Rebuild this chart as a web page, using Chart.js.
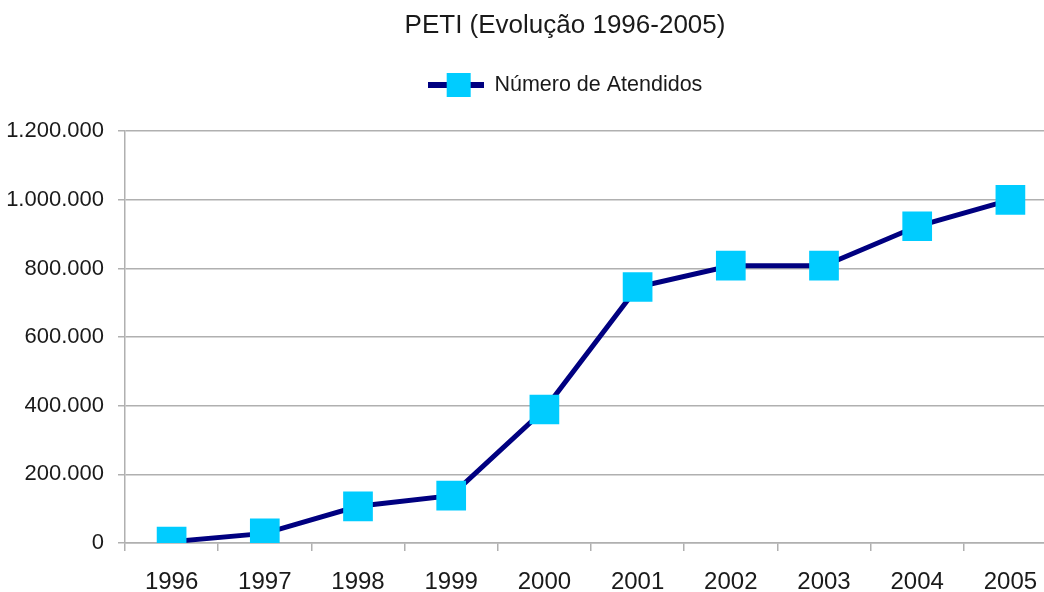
<!DOCTYPE html>
<html>
<head>
<meta charset="utf-8">
<script src="https://cdn.jsdelivr.net/npm/chart.js@4"></script>
<style>
    html, body { margin: 0; padding: 0; overflow: hidden; background: #fff; }
    #petiChart { display: block; }
</style>
</head>
<body>
<canvas id="petiChart" width="1130" height="595"></canvas>
<script>
// anos e numero de atendidos
var years = ["1996", "1997", "1998", "1999", "2000", "2001", "2002", "2003", "2004", "2005"];
var atendidos = [4000, 28000, 107000, 138000, 389000, 746000, 808000, 808000, 923000, 1000000];
var yTicks = [0, 200000, 400000, 600000, 800000, 1000000, 1200000];

var navy = "#000080";
var cyan = "#00CCFF";
var gridGray = "#b0b0b0";
var textColor = "#1a1a1a";
var fontFamily = "'Liberation Sans', Arial, sans-serif";
var rightPad = 73;

function formatPt(v) {
    return String(v).replace(/\B(?=(\d{3})+(?!\d))/g, ".");
}

// legend symbol: line with square in the middle
var legendIcon = document.createElement("canvas");
legendIcon.width = 56;
legendIcon.height = 26;
var lctx = legendIcon.getContext("2d");
lctx.fillStyle = navy;
lctx.fillRect(0, 10, 56, 6);
lctx.fillStyle = cyan;
lctx.fillRect(19, 1, 24, 24);

// push plot area down under the legend, and center title/legend on full canvas
var headerFix = {
    id: "headerFix",
    beforeInit: function (chart) {
        var origFit = chart.legend.fit;
        chart.legend.fit = function () {
            origFit.bind(chart.legend)();
            this.height = 90;
        };
    },
    afterLayout: function (chart) {
        chart.titleBlock.right += rightPad;
        chart.legend.right += rightPad;
    },
};

var ctx = document.getElementById("petiChart");
var petiChart = new Chart(ctx, {
    type: "line",
    data: {
        labels: years,
        datasets: [
            {
                label: "Número de Atendidos",
                data: atendidos,
                borderColor: navy,
                borderWidth: 5,
                backgroundColor: cyan,
                pointStyle: "rect",
                pointRadius: 21,
                pointBorderWidth: 0,
                pointBackgroundColor: cyan,
                tension: 0,
            },
        ],
    },
    options: {
        responsive: false,
        animation: false,
        layout: {
            autoPadding: false,
            padding: { left: 0, right: rightPad, top: 0, bottom: 0 },
        },
        plugins: {
            tooltip: { enabled: false },
            title: {
                display: true,
                text: "PETI (Evolução 1996-2005)",
                color: textColor,
                font: { family: fontFamily, size: 26, weight: "normal" },
                padding: { top: 10, bottom: 0 },
            },
            legend: {
                display: true,
                labels: {
                    color: textColor,
                    font: { family: fontFamily, size: 21.5 },
                    usePointStyle: true,
                    pointStyleWidth: 56,
                    padding: 33,
                    generateLabels: function (chart) {
                        var items = Chart.defaults.plugins.legend.labels.generateLabels(chart);
                        items.forEach(function (item) {
                            item.pointStyle = legendIcon;
                        });
                        return items;
                    },
                },
            },
        },
        scales: {
            x: {
                type: "category",
                offset: true,
                afterFit: function (scale) {
                    scale.height = 52;
                },
                grid: {
                    offset: true,
                    drawOnChartArea: false,
                    drawTicks: true,
                    tickLength: 8,
                    color: gridGray,
                    lineWidth: 1.5,
                },
                border: { color: gridGray, width: 1.5 },
                ticks: {
                    color: textColor,
                    font: { family: fontFamily, size: 24 },
                    padding: 17,
                    maxRotation: 0,
                },
            },
            y: {
                min: 0,
                max: 1200000,
                afterBuildTicks: function (scale) {
                    scale.ticks = yTicks.map(function (v) { return { value: v }; });
                },
                afterFit: function (scale) {
                    scale.width = 125;
                },
                grid: {
                    color: gridGray,
                    lineWidth: 1.5,
                    drawTicks: true,
                    tickLength: 7,
                },
                border: { color: gridGray, width: 1.5 },
                ticks: {
                    color: textColor,
                    font: { family: fontFamily, size: 22 },
                    padding: 14,
                    callback: function (value) {
                        return formatPt(value);
                    },
                },
            },
        },
    },
    plugins: [headerFix],
});
</script>
</body>
</html>
